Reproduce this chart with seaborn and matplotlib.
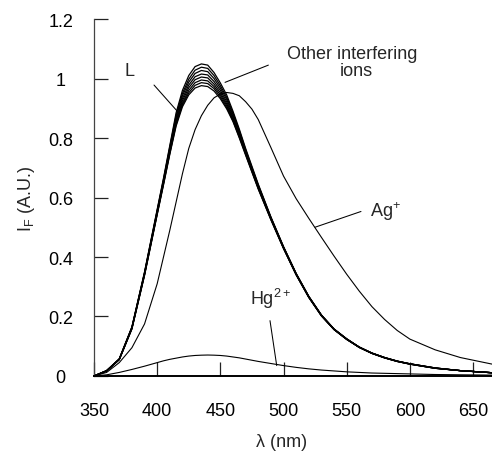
import matplotlib
matplotlib.use("Agg")
import matplotlib.pyplot as plt
import seaborn as sns
import pandas as pd

# ---------------- data ----------------
wavelength = [350, 360, 370, 380, 390, 400, 405, 410, 415, 420, 425, 430, 435, 440,
              445, 450, 455, 460, 465, 470, 475, 480, 490, 500, 510, 520, 530, 540,
              550, 560, 570, 580, 590, 600, 620, 640, 665]

L_free = [0.000, 0.018, 0.058, 0.165, 0.350, 0.560, 0.665, 0.775, 0.885, 0.960, 1.010, 1.040,
          1.049, 1.045, 1.020, 0.985, 0.945, 0.890, 0.830, 0.765, 0.705, 0.645, 0.535, 0.435,
          0.345, 0.268, 0.205, 0.158, 0.125, 0.097, 0.077, 0.062, 0.050, 0.041, 0.027, 0.018, 0.011]
ion_1 = [0.000, 0.018, 0.057, 0.164, 0.348, 0.557, 0.661, 0.770, 0.877, 0.950, 0.998, 1.028,
         1.038, 1.034, 1.010, 0.976, 0.937, 0.884, 0.825, 0.761, 0.701, 0.642, 0.533, 0.434,
         0.344, 0.267, 0.205, 0.158, 0.125, 0.097, 0.077, 0.062, 0.050, 0.041, 0.027, 0.018, 0.011]
ion_2 = [0.000, 0.018, 0.057, 0.163, 0.346, 0.554, 0.657, 0.765, 0.870, 0.942, 0.988, 1.017,
         1.027, 1.023, 1.000, 0.968, 0.930, 0.878, 0.820, 0.757, 0.698, 0.640, 0.532, 0.433,
         0.343, 0.267, 0.204, 0.157, 0.124, 0.097, 0.077, 0.062, 0.050, 0.041, 0.027, 0.018, 0.011]
ion_3 = [0.000, 0.018, 0.056, 0.162, 0.345, 0.551, 0.654, 0.760, 0.863, 0.933, 0.978, 1.006,
         1.015, 1.012, 0.990, 0.960, 0.922, 0.872, 0.815, 0.754, 0.695, 0.637, 0.531, 0.432,
         0.343, 0.266, 0.204, 0.157, 0.124, 0.097, 0.077, 0.062, 0.050, 0.041, 0.027, 0.018, 0.011]
ion_4 = [0.000, 0.017, 0.056, 0.161, 0.343, 0.549, 0.651, 0.756, 0.857, 0.925, 0.969, 0.996,
         1.005, 1.002, 0.981, 0.952, 0.915, 0.867, 0.811, 0.751, 0.692, 0.635, 0.530, 0.431,
         0.342, 0.266, 0.203, 0.157, 0.124, 0.096, 0.076, 0.061, 0.049, 0.040, 0.026, 0.018, 0.011]
ion_5 = [0.000, 0.017, 0.056, 0.160, 0.341, 0.546, 0.648, 0.752, 0.851, 0.917, 0.960, 0.986,
         0.995, 0.992, 0.973, 0.945, 0.909, 0.862, 0.807, 0.748, 0.690, 0.632, 0.528, 0.430,
         0.341, 0.265, 0.203, 0.156, 0.123, 0.096, 0.076, 0.061, 0.049, 0.040, 0.026, 0.018, 0.011]
ion_6 = [0.000, 0.017, 0.055, 0.159, 0.340, 0.544, 0.645, 0.748, 0.845, 0.911, 0.952, 0.977,
         0.986, 0.983, 0.966, 0.938, 0.903, 0.858, 0.803, 0.745, 0.687, 0.630, 0.526, 0.429,
         0.340, 0.264, 0.202, 0.156, 0.123, 0.096, 0.076, 0.061, 0.049, 0.040, 0.026, 0.018, 0.011]
ion_7 = [0.000, 0.017, 0.055, 0.158, 0.338, 0.542, 0.642, 0.745, 0.840, 0.905, 0.945, 0.968,
         0.976, 0.973, 0.958, 0.932, 0.898, 0.855, 0.800, 0.742, 0.685, 0.628, 0.525, 0.428,
         0.340, 0.264, 0.202, 0.156, 0.123, 0.096, 0.076, 0.061, 0.049, 0.040, 0.026, 0.018, 0.011]
Ag = [0.000, 0.012, 0.045, 0.095, 0.175, 0.310, 0.400, 0.490, 0.585, 0.680, 0.765, 0.828,
      0.875, 0.910, 0.935, 0.948, 0.953, 0.950, 0.942, 0.922, 0.897, 0.862, 0.768, 0.672,
      0.596, 0.530, 0.466, 0.403, 0.342, 0.285, 0.233, 0.190, 0.153, 0.124, 0.088, 0.062, 0.040]
Hg = [0.000, 0.004, 0.012, 0.022, 0.033, 0.045, 0.051, 0.056, 0.060, 0.064, 0.067, 0.069,
      0.070, 0.0705, 0.070, 0.069, 0.067, 0.064, 0.061, 0.057, 0.053, 0.049, 0.042, 0.035,
      0.029, 0.024, 0.020, 0.017, 0.014, 0.012, 0.010, 0.009, 0.008, 0.007, 0.005, 0.004, 0.003]

bundle = {"L": L_free, "ion1": ion_1, "ion2": ion_2, "ion3": ion_3, "ion4": ion_4,
          "ion5": ion_5, "ion6": ion_6, "ion7": ion_7}

x_ticks = [350, 400, 450, 500, 550, 600, 650]
y_ticks = [0, 0.2, 0.4, 0.6, 0.8, 1.0, 1.2]
y_tick_labels = ["0", "0.2", "0.4", "0.6", "0.8", "1", "1.2"]

# ---------------- style ----------------
sns.set_style("white")
plt.rcParams["font.family"] = ["Liberation Sans", "DejaVu Sans"]
plt.rcParams["mathtext.default"] = "regular"
plt.rcParams["font.size"] = 13

fig = plt.figure(figsize=(4.92, 4.52), dpi=100)
ax = fig.add_axes([0.19106, 0.16593, 0.80894, 0.78982])

rows = []
for name, vals in bundle.items():
    for w, v in zip(wavelength, vals):
        rows.append({"wavelength": w, "intensity": v, "curve": name})
df_bundle = pd.DataFrame(rows)

sns.lineplot(data=df_bundle, x="wavelength", y="intensity", units="curve",
             estimator=None, color="black", lw=0.9, ax=ax, clip_on=False)
sns.lineplot(x=wavelength, y=Ag, color="black", lw=0.8, ax=ax, clip_on=False)
sns.lineplot(x=wavelength, y=Hg, color="black", lw=0.8, ax=ax, clip_on=False)

ax.set_xlim(350, 665)
ax.set_ylim(0, 1.2)
ax.set_xticks(x_ticks)
ax.set_yticks(y_ticks)
ax.set_yticklabels(y_tick_labels)
ax.tick_params(axis="both", direction="in", length=10, width=0.9, color="#222222",
               labelsize=13, labelcolor="black", bottom=True, left=True)
ax.tick_params(axis="x", pad=19)
ax.tick_params(axis="y", pad=24)
for lab in ax.get_yticklabels():
    lab.set_horizontalalignment("center")

sns.despine(ax=ax)
ax.spines["left"].set_color("#444444")
ax.spines["left"].set_linewidth(0.9)
ax.spines["bottom"].set_color("black")
ax.spines["bottom"].set_linewidth(1.4)

ax.set_xlabel("λ (nm)", fontsize=13)
ax.set_ylabel("$I_F$ (A.U.)", fontsize=13)
ax.xaxis.set_label_coords((281.7 - 94) / 398, -(434 - 377) / 357)
ax.yaxis.set_label_coords(-(94 - 37) / 398, 0.5)

# ---------------- annotations ----------------
ax.text(374.5, 1.012, "L", fontsize=13, ha="left", va="baseline")
ax.annotate("", xy=(415.5, 0.892), xytext=(397.5, 0.978),
            arrowprops=dict(arrowstyle="-", lw=0.75, color="black", shrinkA=0, shrinkB=0))
ax.text(502.7, 1.068, "Other interfering", fontsize=13, ha="left", va="baseline")
ax.text(544.7, 1.012, "ions", fontsize=13, ha="left", va="baseline")
ax.annotate("", xy=(453.7, 0.987), xytext=(488, 1.045),
            arrowprops=dict(arrowstyle="-", lw=0.75, color="black", shrinkA=0, shrinkB=0))
ax.text(568.4, 0.539, "Ag$^{+}$", fontsize=13, ha="left", va="baseline")
ax.annotate("", xy=(524.9, 0.50), xytext=(561.3, 0.553),
            arrowprops=dict(arrowstyle="-", lw=0.75, color="black", shrinkA=0, shrinkB=0))
ax.text(473.5, 0.242, "Hg$^{2+}$", fontsize=13, ha="left", va="baseline")
ax.annotate("", xy=(494.6, 0.035), xytext=(489.3, 0.186),
            arrowprops=dict(arrowstyle="-", lw=0.75, color="black", shrinkA=0, shrinkB=0))

fig.savefig("out.png", dpi=100)
